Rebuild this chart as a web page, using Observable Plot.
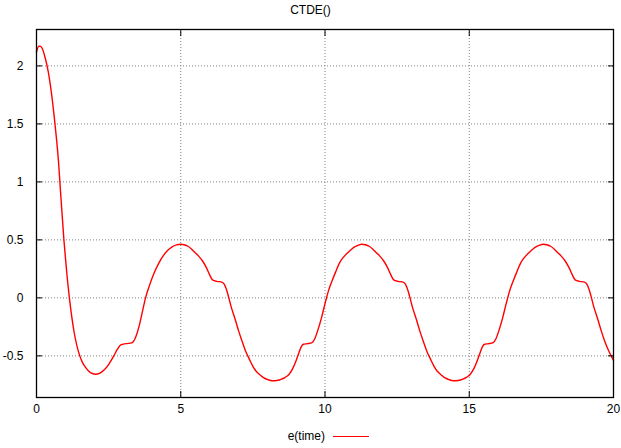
<!DOCTYPE html>
<html>
<head>
<meta charset="utf-8">
<script src="https://cdn.jsdelivr.net/npm/d3@7"></script>
<script src="https://cdn.jsdelivr.net/npm/@observablehq/plot@0.6"></script>
<style>
  html, body { margin: 0; padding: 0; background: #fff; overflow: hidden; }
  body { width: 621px; height: 448px; font-family: "Liberation Sans", Arial, sans-serif; font-size: 12px; color: #000; }
  #title { height: 20px; line-height: 20px; text-align: center; font-size: 12px; }
  #legend { position: relative; height: 28px; }
  #legend .lbl { position: absolute; right: 296px; top: 9px; font-size: 12px; line-height: 14px; }
  #legend .swatch { position: absolute; left: 333px; top: 16px; width: 36px; height: 0; border-top: 1.5px solid #ff0000; }
  svg { display: block; }
</style>
</head>
<body>
<div id="title">CTDE()</div>
<div id="chart"></div>
<div id="legend"><span class="lbl">e(time)</span><span class="swatch"></span></div>
<script>
const titleText = "CTDE()";
const seriesName = "e(time)";
const xTicks = [0, 5, 10, 15, 20];
const yTicks = [-0.5, 0, 0.5, 1, 1.5, 2];
const xGrid = [5, 10, 15];

const time = [
  0, 0.08, 0.14, 0.2, 0.3, 0.4, 0.5, 0.64, 0.77, 0.81, 0.95, 1.04, 1.14, 1.3, 1.5, 1.6, 1.7, 1.87, 2.04, 2.2, 2.35, 2.5, 2.68, 2.8, 2.92, 3.1, 3.3, 3.45, 3.55, 3.67, 3.78, 3.92, 4.07, 4.24, 4.41, 4.55, 4.7, 4.85,
  5.0, 5.12, 5.25, 5.38, 5.5, 5.62, 5.75, 5.88, 6.0, 6.1, 6.25, 6.4, 6.5, 6.6, 6.75, 6.88, 7.0, 7.12, 7.25, 7.38, 7.5, 7.62, 7.75, 7.88, 8.0, 8.17, 8.33, 8.5, 8.62, 8.75, 8.88, 9.0, 9.1, 9.18, 9.25, 9.4, 9.55, 9.65, 9.75, 9.88, 10.0, 10.12, 10.25, 10.38, 10.5, 10.62, 10.75, 10.88, 11.0, 11.14,
  11.28, 11.4, 11.53, 11.66, 11.78, 11.9, 12.03, 12.16, 12.28, 12.38, 12.53, 12.68, 12.78, 12.88, 13.03, 13.16, 13.28, 13.4, 13.53, 13.66, 13.78, 13.9, 14.03, 14.16, 14.28, 14.45, 14.61, 14.78, 14.9, 15.03, 15.16, 15.28, 15.38, 15.46, 15.53, 15.68, 15.83, 15.93, 16.03, 16.16, 16.28, 16.4, 16.53, 16.66, 16.78, 16.9, 17.03, 17.16, 17.28, 17.42,
  17.57, 17.69, 17.82, 17.95, 18.07, 18.19, 18.32, 18.45, 18.57, 18.67, 18.82, 18.97, 19.07, 19.17, 19.32, 19.45, 19.57, 19.69, 19.82, 19.92, 20.0
];
const value = [
  2.12, 2.17, 2.168, 2.15, 2.07, 1.96, 1.8, 1.5, 1.15, 1.0, 0.5, 0.24, 0.0, -0.29, -0.5, -0.56, -0.6, -0.645, -0.658, -0.648, -0.62, -0.575, -0.5, -0.445, -0.405, -0.395, -0.388, -0.33, -0.25, -0.12, 0.0, 0.11, 0.21, 0.3, 0.368, 0.41, 0.44, 0.457,
  0.463, 0.458, 0.445, 0.42, 0.39, 0.36, 0.32, 0.265, 0.2, 0.155, 0.142, 0.138, 0.12, 0.06, -0.08, -0.18, -0.28, -0.37, -0.46, -0.53, -0.59, -0.635, -0.665, -0.69, -0.703, -0.715, -0.712, -0.7, -0.685, -0.66, -0.61, -0.54, -0.47, -0.42, -0.4, -0.395, -0.385, -0.35, -0.28, -0.17, -0.05, 0.06, 0.15, 0.23, 0.3, 0.345, 0.38, 0.41, 0.435, 0.453,
  0.463, 0.458, 0.445, 0.42, 0.39, 0.36, 0.32, 0.265, 0.2, 0.155, 0.142, 0.138, 0.12, 0.06, -0.08, -0.18, -0.28, -0.37, -0.46, -0.53, -0.59, -0.635, -0.665, -0.69, -0.703, -0.715, -0.712, -0.7, -0.685, -0.66, -0.61, -0.54, -0.47, -0.42, -0.4, -0.395, -0.385, -0.35, -0.28, -0.17, -0.05, 0.06, 0.15, 0.23, 0.3, 0.345, 0.38, 0.41, 0.435, 0.453,
  0.463, 0.458, 0.445, 0.42, 0.39, 0.36, 0.32, 0.265, 0.2, 0.155, 0.142, 0.138, 0.12, 0.06, -0.08, -0.18, -0.28, -0.37, -0.45, -0.5, -0.54
];

const data = time.map((t, i) => ({t, v: value[i]}));
const fmt = d => String(d);
const gridStyle = {stroke: "#808080", strokeOpacity: 1, strokeWidth: 1, strokeDasharray: "1,2"};

const chart = Plot.plot({
  width: 621,
  height: 400,
  marginTop: 9,
  marginBottom: 23,
  marginLeft: 36,
  marginRight: 8,
  style: {fontFamily: "Liberation Sans, Arial, sans-serif", fontSize: "12px", color: "#000", background: "#fff"},
  x: {domain: [0, 20]},
  y: {domain: [-0.859, 2.314]},
  marks: [
    Plot.gridX(xGrid, gridStyle),
    Plot.gridY(yTicks, gridStyle),
    Plot.line(data, {x: "t", y: "v", stroke: "#ff0000", strokeWidth: 1.4, curve: "monotone-x"}),
    Plot.axisX(xTicks, {anchor: "bottom", tickSize: -6, fill: "none", stroke: "#000", label: null}),
    Plot.axisX(xTicks, {anchor: "top", tickSize: -6, fill: "none", stroke: "#000", label: null}),
    Plot.axisY(yTicks, {anchor: "left", tickSize: -6, fill: "none", stroke: "#000", label: null}),
    Plot.axisY(yTicks, {anchor: "right", tickSize: -6, fill: "none", stroke: "#000", label: null}),
    Plot.axisX(xTicks, {anchor: "bottom", tickSize: 0, tickPadding: 7, tickFormat: fmt, label: null, fontSize: 12}),
    Plot.axisY(yTicks, {anchor: "left", tickSize: 0, tickPadding: 13, tickFormat: fmt, label: null, fontSize: 12}),
    Plot.frame({stroke: "#000", strokeWidth: 1.3})
  ]
});
document.getElementById("chart").appendChild(chart);
</script>
</body>
</html>
